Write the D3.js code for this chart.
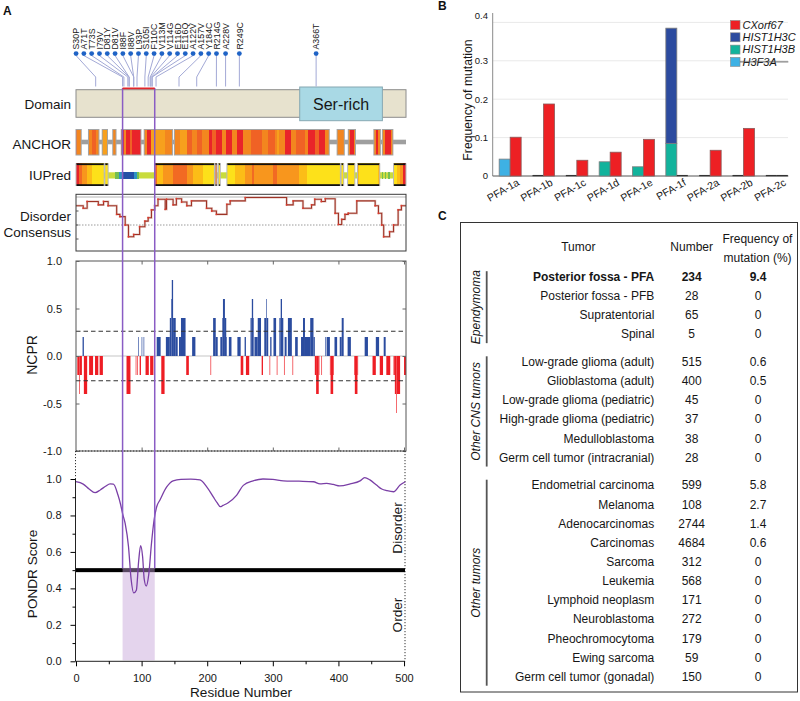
<!DOCTYPE html>
<html>
<head>
<meta charset="utf-8">
<script src="https://cdn.jsdelivr.net/npm/d3@7/dist/d3.min.js"></script>
<style>
  html,body{margin:0;padding:0;background:#fff;}
  svg{display:block;font-family:"Liberation Sans",Arial,Helvetica,sans-serif;}
</style>
</head>
<body>
<svg id="fig" width="800" height="701"></svg>
<script>
// ================= DATA =================
// ---- Panel A ----
const proteinLength = 503;
const mutationLabels = ["S30P","A71T","T73S","I79V","D81Y","D81V","I88F","I88V","L93P","S105I","F110C","V113M","V114G","E116D","E116Q","A122V","A157V","Y184C","R214G","A228V","R249C","A366T"];
const mutationResidues = [30,71,73,79,81,81,88,88,93,105,110,113,114,116,116,122,157,184,214,228,249,366];
const domainNames = ["Ser-rich"];
const domainStarts = [341];
const domainEnds = [467];
const highlightRegion = [71, 120];
const trackLabels = ["Domain","ANCHOR","IUPred"];
const consensusLabel = ["Disorder","Consensus"];

// ANCHOR binding-region stripes: [start, end, level 0..3]
const anchorStripes = [
 [0,1,2],[2,7,1],
 [19,23,1],[24,29,2],[30,34,1],
 [40,47,0],
 [56,60,1],
 [69,72,3],[73,75,1],[76,81,3],[82,84,2],[85,98,3],
 [104,107,1],[108,114,3],[115,135,0],[136,146,1],
 [150,158,1],[159,168,0],[169,176,2],[177,184,1],[185,191,2],[192,201,1],[202,206,3],[207,212,2],[213,221,3],[222,227,1],[228,237,3],[238,244,1],[245,254,3],[255,266,1],[267,282,2],[283,291,1],[292,302,2],[303,306,1],[307,309,0],[310,317,1],[318,327,3],[328,335,1],[336,348,2],[349,353,1],[354,363,3],[364,370,2],[371,379,3],[380,385,1],
 [398,408,1],
 [415,417,1],[418,422,3],[423,425,1],
 [454,456,1],[457,460,3],[461,463,1],
 [467,470,1],[471,479,3],[480,482,1]
];
// IUPred disordered-box stripes: [start, end, level 0 (yellow) .. 4 (red)]
const iupredStripes = [
 [0,4,4],[5,8,3],[9,16,2],[17,24,1],[25,42,0],
 [44,48,0],
 [120,122,3],[123,132,1],[133,147,2],[148,168,3],[169,178,2],[179,193,1],[194,210,0],
 [212,214,3],
 [217,219,0],
 [230,241,0],[242,257,1],[258,267,2],[268,271,3],[272,299,2],[300,305,3],[306,339,2],[340,351,1],[352,402,0],
 [404,407,0],
 [414,424,0],
 [429,431,1],[432,460,0],[461,462,1],
 [484,489,0],[490,493,1],[494,497,2],[498,502,4]
];
// IUPred linker (ordered) stripes: [start, end, level 1..3]
const iupredLinkerStripes = [
 [60,64,1],[65,69,2],[70,87,3],[88,92,2],[93,95,1],
 [466,467,1],[471,472,1],[476,478,1]
];
// Disorder consensus: [start residue, value] step function
const consensusSteps = [
 [0,0.845],[11,0.8],[17,0.92],[34,0.86],[42,0.92],[49,0.845],[62,0.69],[67,0.65],[75,0.5],[80,0.29],[88,0.33],[97,0.47],[105,0.57],[110,0.63],[115,0.77],[120,0.845],[125,0.96],[136,0.78],[138,0.96],[148,0.86],[153,0.97],[161,0.91],[169,0.845],[176,0.93],[199,0.8],[207,0.75],[214,0.69],[230,0.87],[235,0.93],[258,0.99],[321,0.86],[331,0.93],[346,0.8],[359,0.86],[364,0.96],[374,0.92],[380,0.97],[395,0.71],[400,0.51],[405,0.6],[410,0.69],[415,0.71],[428,0.93],[456,0.845],[461,0.71],[466,0.5],[469,0.29],[478,0.38],[484,0.5],[491,0.77],[496,0.845],[503,0.845]
];
// NCPR runs: [start, end, value]
const ncprRuns = [
 [2,4,-0.2],[5,5,-0.4],[6,8,-0.2],[10,11,0.2],[12,16,-0.4],[20,25,-0.2],[29,33,-0.2],[36,40,-0.2],
 [77,82,-0.4],[91,91,-0.2],[93,93,-0.2],[95,95,0.2],[97,98,-0.2],[100,100,0.2],[103,103,0.2],[106,110,-0.2],[113,117,-0.2],
 [123,128,0.2],[130,134,-0.4],[137,142,0.2],[143,144,0.4],[145,145,0.6],[146,147,0.8],[148,151,0.4],[152,154,0.2],[157,159,0.2],[160,166,0.4],[168,171,-0.2],[177,181,0.2],
 [205,205,-0.2],[209,212,0.4],[213,215,0.2],[220,222,0.2],[223,223,0.4],[224,226,0.6],[227,228,0.4],[229,229,0.2],[233,236,0.2],[246,250,0.2],[251,254,-0.2],[257,258,0.2],[259,263,-0.2],[266,267,0.4],[268,269,0.6],[270,270,0.4],[272,276,0.2],[277,281,0.4],[283,284,-0.2],[287,289,0.4],[290,290,0.6],[291,292,0.4],[295,295,-0.2],[296,297,0.2],[301,304,0.4],[306,306,-0.2],[310,311,0.4],[312,313,0.6],[314,315,0.4],[317,317,-0.2],[318,320,0.2],[323,328,0.4],[330,330,-0.2],[334,337,0.2],[343,345,0.2],[346,348,0.4],[349,356,0.2],[357,361,0.4],[362,363,0.2],
 [364,365,-0.2],[366,369,-0.4],[370,370,-0.2],[374,374,-0.2],[380,380,0.2],[382,386,0.2],[387,387,-0.2],[388,391,-0.4],[392,392,-0.2],[394,397,0.2],[402,404,0.2],[405,407,0.4],[414,418,0.2],[424,424,-0.2],[425,428,-0.4],[429,429,-0.2],[440,444,0.2],[452,456,-0.2],[457,461,0.2],[463,467,-0.2],[469,471,0.2],[473,478,-0.2],[484,485,-0.2],[486,487,-0.4],[488,488,-0.6],[489,493,-0.4],[500,502,-0.2]
];
const ncprThreshold = 0.26;
const ncprTicks = [-1,-0.5,0,0.5,1];
// PONDR
const pondrResidues = [0,11,20,29,37,45,52,57,64,68,71,75,80,84,88,92,95.5,98.5,101.5,104,107,111,115,119,123,128,138,148,160,175,189,199,209,215,220,224,232,245,255,270,285,300,316,340,362,372,382,392,402,418,433,440,448,458,466,474,484,494,502];
const pondrScores   = [0.985,0.972,0.945,0.925,0.94,0.96,0.973,0.972,0.912,0.86,0.81,0.755,0.63,0.45,0.375,0.39,0.55,0.635,0.575,0.45,0.413,0.48,0.645,0.775,0.848,0.885,0.955,0.99,0.998,0.999,0.995,0.958,0.903,0.87,0.848,0.855,0.87,0.912,0.965,0.99,1.0,0.998,0.99,0.988,0.985,0.973,0.976,0.97,0.962,0.973,0.99,1.007,0.995,0.967,0.945,0.936,0.93,0.967,0.985];
const pondrThreshold = 0.5;
const pondrYTicks = [0,0.2,0.4,0.6,0.8,1.0];
const residueTicks = [0,100,200,300,400,500];

// ---- Panel B ----
const subgroups = ["PFA-1a","PFA-1b","PFA-1c","PFA-1d","PFA-1e","PFA-1f","PFA-2a","PFA-2b","PFA-2c"];
const cxorf67Freq  = [0.101,0.1875,0.041,0.062,0.0955,0,0.067,0.124,0];
const hist1h3cFreq = [0,0,0,0,0,0.30,0,0,0];
const hist1h3bFreq = [0,0,0,0.037,0.024,0.085,0,0,0];
const h3f3aFreq    = [0.044,0,0,0,0,0,0,0,0];
const freqTicks = [0,0.1,0.2,0.3,0.4];
const legendKeys = ["CXorf67","HIST1H3C","HIST1H3B","H3F3A"];

// ---- Panel C ----
const tableHeaders = ["Tumor","Number","Frequency of","mutation (%)"];
const tumorGroups = ["Ependymoma","Other CNS tumors","Other tumors"];
const tumorGroupSizes = [4,6,11];
const tumorNames = ["Posterior fossa - PFA","Posterior fossa - PFB","Supratentorial","Spinal",
 "Low-grade glioma (adult)","Glioblastoma (adult)","Low-grade glioma (pediatric)","High-grade glioma (pediatric)","Medulloblastoma","Germ cell tumor (intracranial)",
 "Endometrial carcinoma","Melanoma","Adenocarcinomas","Carcinomas","Sarcoma","Leukemia","Lymphoid neoplasm","Neuroblastoma","Pheochromocytoma","Ewing sarcoma","Germ cell tumor (gonadal)"];
const tumorNumbers = ["234","28","65","5","515","400","45","37","38","28","599","108","2744","4684","312","568","171","272","179","59","150"];
const tumorFrequencies = ["9.4","0","0","0","0.6","0.5","0","0","0","0","5.8","2.7","1.4","0.6","0","0","0","0","0","0","0"];

// ================= DRAW =================
const svg = d3.select("#fig");
const TXT = "#161616";

// Panel letters
[["A",3,15.3],["B",438,9.5],["C",438,219.5]].forEach(([t,x,y])=>{
  svg.append("text").attr("x",x).attr("y",y).attr("font-weight","bold").attr("font-size",12).attr("fill","#111").text(t);
});

// ---------- PANEL A ----------
const xA = d3.scaleLinear().domain([0, proteinLength]).range([76, 406]);
const gA = svg.append("g");

// Domain track
const domainTop = 89.7, domainH = 27.6;
gA.append("rect").attr("x", xA(0)).attr("y", domainTop).attr("width", xA(proteinLength)-xA(0)).attr("height", domainH)
  .attr("fill","#e7e2ce").attr("stroke","#8c8c8c").attr("stroke-width",1);
domainNames.forEach((n,i)=>{
  gA.append("rect").attr("x", xA(domainStarts[i])).attr("y", 87).attr("width", xA(domainEnds[i])-xA(domainStarts[i])).attr("height", 33.7)
    .attr("fill","#a9d9e5").attr("stroke","#86a8b2").attr("stroke-width",1);
  gA.append("text").attr("x",(xA(domainStarts[i])+xA(domainEnds[i]))/2).attr("y",104).attr("dy","0.35em")
    .attr("text-anchor","middle").attr("font-size",16).attr("fill",TXT).text(n);
});

// Mutation lollipops with spread-out label layout
const labelGap = 7.8;
let clusters = mutationResidues.map((r,i)=>({idx:[i], center:xA(r)}));
let merged = true;
while(merged){
  merged = false;
  for(let i=0;i<clusters.length-1;i++){
    const a = clusters[i], b = clusters[i+1];
    const aEnd = a.center + (a.idx.length-1)*labelGap/2;
    const bStart = b.center - (b.idx.length-1)*labelGap/2;
    if(bStart - aEnd < labelGap){
      const idx = a.idx.concat(b.idx);
      clusters.splice(i,2,{idx, center:d3.mean(idx, j=>xA(mutationResidues[j]))});
      merged = true; break;
    }
  }
}
const muts = [];
clusters.forEach(c=>{
  const start = c.center - (c.idx.length-1)*labelGap/2;
  c.idx.forEach((j,k)=>muts.push({label:mutationLabels[j], rx:xA(mutationResidues[j]), dx:start+k*labelGap}));
});
const dotY = 53.6;
gA.selectAll("path.mutline").data(muts).join("path").attr("class","mutline")
  .attr("d", d=>`M${d.dx},${dotY+2}L${d.rx},77L${d.rx},86.5`)
  .attr("fill","none").attr("stroke","#a3a9d6").attr("stroke-width",1);
gA.selectAll("circle.mut").data(muts).join("circle").attr("class","mut")
  .attr("cx", d=>d.dx).attr("cy", dotY).attr("r",2.4).attr("fill","#1f63c6");
gA.selectAll("text.mut").data(muts).join("text").attr("class","mut")
  .attr("transform", d=>`translate(${d.dx+3.2},49.5) rotate(-90)`)
  .attr("font-size",8.8).attr("fill",TXT).text(d=>d.label);

// Track labels
const trackLabelY = [104.3, 144.3, 175];
trackLabels.forEach((t,i)=>{
  gA.append("text").attr("x",71).attr("y",trackLabelY[i]).attr("dy","0.35em").attr("text-anchor","end")
    .attr("font-size",13.5).attr("fill",TXT).text(t);
});
consensusLabel.forEach((t,i)=>{
  gA.append("text").attr("x",71).attr("y",216+i*16.7).attr("dy","0.35em").attr("text-anchor","end")
    .attr("font-size",13.5).attr("fill",TXT).text(t);
});

// helper: merge stripes into contiguous segments
function segmentsOf(stripes){
  const segs = [];
  stripes.forEach(([s,e])=>{
    const last = segs[segs.length-1];
    if(last && s <= last[1]+1) last[1] = Math.max(last[1], e); else segs.push([s,e]);
  });
  return segs;
}

// ANCHOR track
const anchorColors = ["#f7a01d","#f3861f","#f06225","#e9242a"];
const anchorTop = 129.5, anchorH = 25.5;
gA.append("rect").attr("x",xA(0)).attr("y",139.7).attr("width",xA(proteinLength)-xA(0)).attr("height",4.6).attr("fill","#9f9f9f");
gA.append("g").selectAll("rect").data(anchorStripes).join("rect")
  .attr("x", d=>xA(d[0])).attr("width", d=>xA(d[1]+1)-xA(d[0])).attr("y",anchorTop).attr("height",anchorH)
  .attr("fill", d=>anchorColors[d[2]]).attr("shape-rendering","crispEdges");
gA.append("g").selectAll("rect").data(segmentsOf(anchorStripes)).join("rect")
  .attr("x", d=>xA(d[0])).attr("width", d=>xA(d[1]+1)-xA(d[0])).attr("y",anchorTop).attr("height",anchorH)
  .attr("fill","none").attr("stroke","#a4a4a4").attr("stroke-width",1);

// IUPred track
const iupColors = ["#fde11a","#fcbd17","#f8961d","#f26a23","#e6232a"];
const linkColors = ["#c9dc3d","#73bf52","#2f93c3","#2450a6"];
const iupTop = 163.3, iupH = 22.7;
gA.append("rect").attr("x",xA(0)).attr("y",172.3).attr("width",xA(proteinLength)-xA(0)).attr("height",6.2).attr("fill",linkColors[0]);
gA.append("g").selectAll("rect").data(iupredLinkerStripes).join("rect")
  .attr("x", d=>xA(d[0])).attr("width", d=>xA(d[1]+1)-xA(d[0])).attr("y",172.3).attr("height",6.2)
  .attr("fill", d=>linkColors[d[2]]).attr("shape-rendering","crispEdges");
gA.append("g").selectAll("rect").data(iupredStripes).join("rect")
  .attr("x", d=>xA(d[0])).attr("width", d=>xA(d[1]+1)-xA(d[0])).attr("y",iupTop).attr("height",iupH)
  .attr("fill", d=>iupColors[d[2]]).attr("shape-rendering","crispEdges");
const iupSegs = segmentsOf(iupredStripes);
const gSeg = gA.append("g");
iupSegs.forEach(([s,e])=>{
  const x0 = xA(s), x1 = xA(e+1);
  gSeg.append("rect").attr("x",x0).attr("y",iupTop).attr("width",x1-x0).attr("height",1.8).attr("fill","#111");
  gSeg.append("rect").attr("x",x0).attr("y",iupTop+iupH-1.8).attr("width",x1-x0).attr("height",1.8).attr("fill","#111");
  [x0,x1].forEach(x=>gSeg.append("line").attr("x1",x).attr("x2",x).attr("y1",iupTop).attr("y2",iupTop+iupH).attr("stroke","#b8b8b8").attr("stroke-width",1));
});

// Disorder consensus
const yC = d3.scaleLinear().domain([0,1]).range([253,197]);
const cBox = {x0:76, x1:406, y0:194.3, y1:251};
gA.append("line").attr("x1",cBox.x0).attr("x2",cBox.x1).attr("y1",yC(1)).attr("y2",yC(1)).attr("stroke","#b5b5b5").attr("stroke-width",1);
gA.append("line").attr("x1",cBox.x0).attr("x2",cBox.x1).attr("y1",yC(0.5)).attr("y2",yC(0.5)).attr("stroke","#9a9a9a").attr("stroke-width",1).attr("stroke-dasharray","1.5,1.5");
gA.append("path").datum(consensusSteps)
  .attr("d", d3.line().x(d=>xA(d[0])).y(d=>yC(d[1])).curve(d3.curveStepAfter))
  .attr("fill","none").attr("stroke","#d8b0a8").attr("stroke-width",2.4).attr("opacity",0.6);
gA.append("path").datum(consensusSteps)
  .attr("d", d3.line().x(d=>xA(d[0])).y(d=>yC(d[1])).curve(d3.curveStepAfter))
  .attr("fill","none").attr("stroke","#9e3326").attr("stroke-width",1.1);
gA.append("g").selectAll("circle").data(consensusSteps.slice(1,-1)).join("circle")
  .attr("cx", d=>xA(d[0])).attr("cy", d=>yC(d[1])).attr("r",0.9).attr("fill","#e0392c");
gA.append("rect").attr("x",cBox.x0).attr("y",cBox.y0).attr("width",cBox.x1-cBox.x0).attr("height",cBox.y1-cBox.y0)
  .attr("fill","none").attr("stroke","#3a3a3a").attr("stroke-width",1);
[0.25,0.5,0.75].forEach(v=>gA.append("line").attr("x1",cBox.x0).attr("x2",cBox.x0+2.5).attr("y1",yC(v)).attr("y2",yC(v)).attr("stroke","#555"));

// NCPR
const yN = d3.scaleLinear().domain([-1,1]).range([451,261]);
const gN = gA.append("g");
gN.append("line").attr("x1",76).attr("x2",406).attr("y1",yN(0)).attr("y2",yN(0)).attr("stroke","#e2e2e2").attr("stroke-width",2);
gN.selectAll("rect.ncpr").data(ncprRuns).join("rect").attr("class","ncpr")
  .attr("x", d=>xA(d[0])).attr("width", d=>xA(d[1]+1)-xA(d[0]))
  .attr("y", d=>d[2]>0 ? yN(d[2]) : yN(0)).attr("height", d=>Math.abs(yN(d[2])-yN(0)))
  .attr("fill", d=>d[2]>0 ? "#2b4c9f" : "#ee1d24");
[ncprThreshold, -ncprThreshold].forEach(v=>{
  gN.append("line").attr("x1",76).attr("x2",406).attr("y1",yN(v)).attr("y2",yN(v))
    .attr("stroke","#333").attr("stroke-width",1.1).attr("stroke-dasharray","4.5,3");
});
gN.append("rect").attr("x",76).attr("y",261).attr("width",330).attr("height",190).attr("fill","none").attr("stroke","#555").attr("stroke-width",1);
const axN = gN.append("g").attr("transform","translate(76,0)")
  .call(d3.axisLeft(yN).tickValues(ncprTicks).tickSize(-3.5).tickPadding(14).tickFormat(d=>d.toFixed(1)));
axN.select(".domain").remove();
axN.selectAll("text").attr("font-size",11).attr("fill",TXT).attr("font-family",null);
axN.selectAll("line").attr("stroke","#666");
const axNr = gN.append("g").attr("transform","translate(406,0)").call(d3.axisRight(yN).tickValues(ncprTicks).tickSize(-3.5).tickFormat(""));
axNr.select(".domain").remove(); axNr.selectAll("line").attr("stroke","#666");
const axNt = gN.append("g").attr("transform","translate(0,261)").call(d3.axisTop(xA).tickValues(residueTicks.slice(1)).tickSize(-3.5).tickFormat(""));
axNt.select(".domain").remove(); axNt.selectAll("line").attr("stroke","#666");
const axNb = gN.append("g").attr("transform","translate(0,451)").call(d3.axisBottom(xA).tickValues(residueTicks.slice(1)).tickSize(-3.5).tickFormat(""));
axNb.select(".domain").remove(); axNb.selectAll("line").attr("stroke","#666");
gA.append("text").attr("transform","translate(36.7,355) rotate(-90)").attr("text-anchor","middle").attr("font-size",14).attr("fill",TXT).text("NCPR");

// PONDR
const yP = d3.scaleLinear().domain([0,1]).range([661.3,479]);
const gP = gA.append("g");
const pTop = 451;
gP.append("line").attr("x1",76).attr("x2",405).attr("y1",pTop).attr("y2",pTop).attr("stroke","#333").attr("stroke-dasharray","1.2,1.8");
gP.append("line").attr("x1",405).attr("x2",405).attr("y1",pTop).attr("y2",yP(0)).attr("stroke","#333").attr("stroke-dasharray","1.2,1.8");
gP.append("line").attr("x1",75.5).attr("x2",75.5).attr("y1",pTop).attr("y2",yP(1)).attr("stroke","#333").attr("stroke-dasharray","1.2,1.8");
gP.append("rect").attr("x",xA(0)).attr("y",yP(pondrThreshold)-2).attr("width",xA(proteinLength)-xA(0)-1).attr("height",4).attr("fill","#000");
gP.append("rect").attr("x",xA(highlightRegion[0])).attr("width",xA(highlightRegion[1])-xA(highlightRegion[0]))
  .attr("y",yP(pondrThreshold)-2.3).attr("height",yP(0)-yP(pondrThreshold)+1.3)
  .attr("fill","#c4a0d6").attr("opacity",0.45);
gP.append("path").datum(pondrResidues.map((r,i)=>[r,pondrScores[i]]))
  .attr("d", d3.line().x(d=>xA(d[0])).y(d=>yP(d[1])).curve(d3.curveMonotoneX))
  .attr("fill","none").attr("stroke","#7a3fa6").attr("stroke-width",1.3);
const axPy = gP.append("g").attr("transform","translate(75.5,0)")
  .call(d3.axisLeft(yP).tickValues(pondrYTicks).tickSize(5).tickPadding(9).tickFormat(d=>d.toFixed(1)));
axPy.selectAll("text").attr("font-size",11).attr("fill",TXT).attr("font-family",null);
axPy.select(".domain").attr("d","M0,"+yP(1)+"V"+yP(0)).attr("stroke","#222");
gP.append("g").attr("transform","translate(75.5,0)")
  .call(d3.axisLeft(yP).tickValues(d3.range(0.1,1,0.2)).tickSize(3).tickFormat(""))
  .select(".domain").remove();
const axPx = gP.append("g").attr("transform","translate(0,"+yP(0)+")")
  .call(d3.axisBottom(xA).tickValues(residueTicks).tickSize(5).tickPadding(8));
axPx.selectAll("text").attr("font-size",11).attr("fill",TXT).attr("font-family",null);
axPx.select(".domain").attr("d","M75.5,0H405").attr("stroke","#222");
gP.append("g").attr("transform","translate(0,"+yP(0)+")")
  .call(d3.axisBottom(xA).tickValues(d3.range(50,501,100)).tickSize(3).tickFormat(""))
  .select(".domain").remove();
gA.append("text").attr("transform","translate(36.5,574) rotate(-90)").attr("text-anchor","middle").attr("font-size",13.6).attr("fill",TXT).text("PONDR Score");
gA.append("text").attr("x",241).attr("y",697).attr("text-anchor","middle").attr("font-size",13.6).attr("fill",TXT).text("Residue Number");
gA.append("text").attr("transform","translate(401.5,528) rotate(-90)").attr("text-anchor","middle").attr("font-size",13.6).attr("fill",TXT).text("Disorder");
gA.append("text").attr("transform","translate(401.5,615) rotate(-90)").attr("text-anchor","middle").attr("font-size",13.6).attr("fill",TXT).text("Order");

// Highlight box (purple verticals + red top)
highlightRegion.forEach(r=>{
  gA.append("line").attr("x1",xA(r)).attr("x2",xA(r)).attr("y1",88).attr("y2",yP(pondrThreshold)-2)
    .attr("stroke","#8a5cc4").attr("stroke-width",1.5);
});
gA.append("line").attr("x1",xA(highlightRegion[0])).attr("x2",xA(highlightRegion[1])).attr("y1",88.3).attr("y2",88.3)
  .attr("stroke","#e2262b").attr("stroke-width",1.8);

// ---------- PANEL B ----------
const gB = svg.append("g");
const xB = d3.scaleBand().domain(subgroups).range([493.5, 793.5]);
const yB = d3.scaleLinear().domain([0,0.4]).range([176,22.4]);
const barW = 11;
const colorB = {CXorf67:"#ed2024", HIST1H3C:"#2c4b9f", HIST1H3B:"#12b39c", H3F3A:"#3eb1e4"};
freqTicks.slice(1).forEach(t=>{
  gB.append("line").attr("x1",493).attr("x2",788).attr("y1",yB(t)).attr("y2",yB(t)).attr("stroke","#e9e9e9").attr("stroke-width",1);
});
gB.append("line").attr("x1",492.7).attr("x2",492.7).attr("y1",13).attr("y2",176).attr("stroke","#8a8a8a");
gB.append("line").attr("x1",492.7).attr("x2",788.3).attr("y1",176).attr("y2",176).attr("stroke","#555").attr("stroke-width",1);
freqTicks.forEach(t=>{
  gB.append("text").attr("x",488).attr("y",yB(t) - (t===0.4 ? 7 : 0)).attr("dy","0.35em").attr("text-anchor","end")
    .attr("font-size",9.5).attr("fill",TXT).text(t===0 ? "0" : t.toFixed(1));
});
gB.append("text").attr("transform","translate(471.5,100) rotate(-90)").attr("text-anchor","middle").attr("font-size",12.2).attr("fill",TXT).text("Frequency of mutation");

const histRows = subgroups.map((s,i)=>({HIST1H3B:hist1h3bFreq[i], HIST1H3C:hist1h3cFreq[i], H3F3A:h3f3aFreq[i]}));
const stackB = d3.stack().keys(["HIST1H3B","HIST1H3C","H3F3A"])(histRows);
stackB.forEach(layer=>{
  layer.forEach((d,i)=>{
    if(d[1]-d[0] <= 0) return;
    const cx = xB(subgroups[i]) + xB.bandwidth()/2;
    gB.append("rect").attr("x",cx-barW).attr("width",barW).attr("y",yB(d[1])).attr("height",yB(d[0])-yB(d[1]))
      .attr("fill",colorB[layer.key]).attr("stroke","#7d7d7d").attr("stroke-width",0.8);
  });
});
subgroups.forEach((s,i)=>{
  const cx = xB(s) + xB.bandwidth()/2;
  const tot = hist1h3bFreq[i]+hist1h3cFreq[i]+h3f3aFreq[i];
  if(tot===0) gB.append("line").attr("x1",cx-barW).attr("x2",cx).attr("y1",175.6).attr("y2",175.6).attr("stroke","#333").attr("stroke-width",1.3);
  if(cxorf67Freq[i]>0){
    gB.append("rect").attr("x",cx).attr("width",barW).attr("y",yB(cxorf67Freq[i])).attr("height",yB(0)-yB(cxorf67Freq[i]))
      .attr("fill",colorB.CXorf67).attr("stroke","#8a5a5a").attr("stroke-width",0.8);
  } else {
    gB.append("line").attr("x1",cx).attr("x2",cx+barW).attr("y1",175.6).attr("y2",175.6).attr("stroke","#333").attr("stroke-width",1.3);
  }
  gB.append("text").attr("transform",`translate(${cx+10},184.5) rotate(-30)`).attr("text-anchor","end")
    .attr("font-size",10.5).attr("fill",TXT).text(s);
});
legendKeys.forEach((k,i)=>{
  const y = 25 + i*12.3;
  gB.append("rect").attr("x",730.5).attr("y",y-4.5).attr("width",9.5).attr("height",9).attr("fill",colorB[k]).attr("stroke","#888").attr("stroke-width",0.6);
  gB.append("text").attr("x",742.5).attr("y",y).attr("dy","0.35em").attr("font-size",11).attr("font-style","italic").attr("fill",TXT).text(k);
});
gB.append("line").attr("x1",740).attr("x2",788.3).attr("y1",25+3*12.3).attr("y2",25+3*12.3).attr("stroke","#555").attr("stroke-width",0.9);

// ---------- PANEL C ----------
const gC = svg.append("g");
gC.append("rect").attr("x",460.5).attr("y",222.5).attr("width",337).attr("height",469.5).attr("fill","none").attr("stroke","#333").attr("stroke-width",1);
const colName = 654.3, colNum = 691.7, colFreq = 758;
gC.append("text").attr("x",578.3).attr("y",246.7).attr("dy","0.35em").attr("text-anchor","middle").attr("font-size",12).attr("fill",TXT).text(tableHeaders[0]);
gC.append("text").attr("x",colNum).attr("y",246.7).attr("dy","0.35em").attr("text-anchor","middle").attr("font-size",12).attr("fill",TXT).text(tableHeaders[1]);
gC.append("text").attr("x",757.4).attr("y",238.3).attr("dy","0.35em").attr("text-anchor","middle").attr("font-size",12).attr("fill",TXT).text(tableHeaders[2]);
gC.append("text").attr("x",757.6).attr("y",257.7).attr("dy","0.35em").attr("text-anchor","middle").attr("font-size",12).attr("fill",TXT).text(tableHeaders[3]);

const rowStep = 19.15, groupGap = 8.5, firstRowY = 276.7;
const rowY = [];
let ri = 0;
tumorGroupSizes.forEach((n,g)=>{ for(let k=0;k<n;k++){ rowY.push(firstRowY + ri*rowStep + g*groupGap); ri++; } });
tumorNames.forEach((t,i)=>{
  const bold = i===0 ? "bold" : null;
  gC.append("text").attr("x",colName).attr("y",rowY[i]).attr("dy","0.35em").attr("text-anchor","end").attr("font-size",12).attr("font-weight",bold).attr("fill",TXT).text(t);
  gC.append("text").attr("x",colNum).attr("y",rowY[i]).attr("dy","0.35em").attr("text-anchor","middle").attr("font-size",12).attr("font-weight",bold).attr("fill",TXT).text(tumorNumbers[i]);
  gC.append("text").attr("x",colFreq).attr("y",rowY[i]).attr("dy","0.35em").attr("text-anchor","middle").attr("font-size",12).attr("font-weight",bold).attr("fill",TXT).text(tumorFrequencies[i]);
});
let startIdx = 0;
tumorGroups.forEach((g,gi)=>{
  const a = rowY[startIdx], b = rowY[startIdx + tumorGroupSizes[gi] - 1];
  const y0 = a - 5.5, y1 = b + 9;
  gC.append("line").attr("x1",486.7).attr("x2",486.7).attr("y1",y0).attr("y2",y1).attr("stroke","#555").attr("stroke-width",1.8);
  gC.append("text").attr("transform",`translate(479.5,${(y0+y1)/2}) rotate(-90)`).attr("text-anchor","middle")
    .attr("font-size",12).attr("font-style","italic").attr("fill",TXT).text(g);
  startIdx += tumorGroupSizes[gi];
});
</script>
</body>
</html>
